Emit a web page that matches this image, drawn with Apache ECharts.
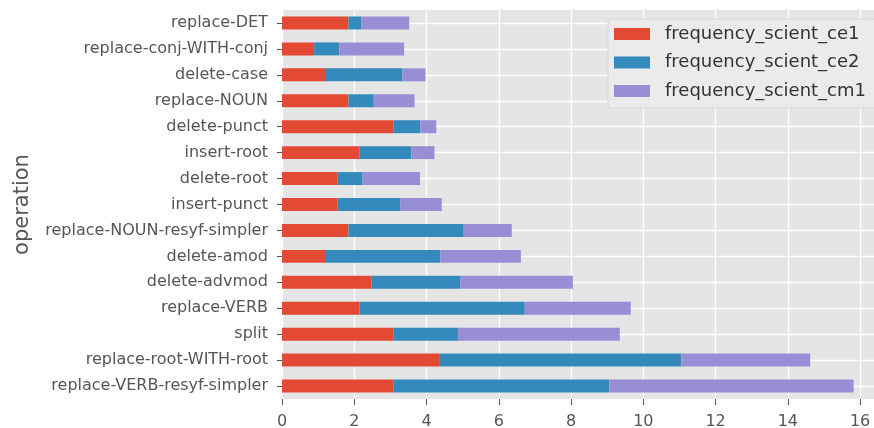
<!DOCTYPE html>
<html><head><meta charset="utf-8">
<script src="https://cdn.jsdelivr.net/npm/echarts@6/dist/echarts.min.js"></script>
<style>html,body{margin:0;padding:0;background:#fff}#c{width:874px;height:428px}</style>
</head><body><div id="c"></div>
<script>
const categories = ['replace-DET','replace-conj-WITH-conj','delete-case','replace-NOUN','delete-punct','insert-root','delete-root','insert-punct','replace-NOUN-resyf-simpler','delete-amod','delete-advmod','replace-VERB','split','replace-root-WITH-root','replace-VERB-resyf-simpler'];
const ce1 = [1.84,0.89,1.19,1.84,3.08,2.14,1.54,1.54,1.84,1.19,2.48,2.14,3.08,4.37,3.08];
const ce2 = [0.35,0.70,2.14,0.70,0.75,1.44,0.69,1.74,3.19,3.19,2.45,4.58,1.79,6.68,5.98];
const cm1 = [1.33,1.79,0.64,1.13,0.44,0.64,1.59,1.14,1.33,2.23,3.12,2.93,4.48,3.57,6.76];
const seriesNames = ['frequency_scient_ce1','frequency_scient_ce2','frequency_scient_cm1'];
const xTicks = [0,2,4,6,8,10,12,14,16];

const chart = echarts.init(document.getElementById('c'));
const font = 'DejaVu Sans';
const colors = ['#E24A33','#348ABD','#988ED5'];
const data = [ce1, ce2, cm1];
chart.setOption({
  animation:false,
  backgroundColor:'#fff',
  textStyle:{fontFamily:font},
  grid:{left:282,width:594,top:10,height:389,containLabel:false,outerBoundsMode:'none',
    show:true,backgroundColor:'#E5E5E5',borderWidth:0},
  legend:{
    orient:'vertical', left:608, top:19,
    data:seriesNames,
    itemWidth:36,itemHeight:12,itemGap:10.5,
    padding:[6,10,8,6],
    backgroundColor:'#EBEBEB',borderColor:'#D6D6D6',borderWidth:1,borderRadius:3,
    textStyle:{color:'#333',fontSize:18,fontFamily:font,padding:[0,0,0,10]},
    icon:'rect'
  },
  xAxis:{
    type:'value',min:0,max:16.44,interval:2,
    axisLine:{show:false},
    axisTick:{show:true,length:6,lineStyle:{color:'#555'}},
    axisLabel:{color:'#555',fontSize:16,fontFamily:font,margin:15,showMaxLabel:false,
      formatter:v=>xTicks.includes(v)?String(v):''},
    splitLine:{show:true,lineStyle:{color:'#fff',width:1.3}}
  },
  yAxis:[{
    type:'category',data:categories,inverse:true,
    name:'operation',nameLocation:'middle',nameRotate:90,nameGap:249,
    nameTextStyle:{color:'#555',fontSize:21,fontFamily:font},
    axisLine:{show:false},
    axisTick:{show:true,alignWithLabel:true,length:5,lineStyle:{color:'#555'}},
    axisLabel:{color:'#555',fontSize:16,fontFamily:font,margin:14},
    splitLine:{show:false}
  },{
    type:'value',min:0,max:30,interval:1,show:true,
    axisLine:{show:false},axisTick:{show:false},axisLabel:{show:false},
    splitLine:{show:true,lineStyle:{color:['rgba(0,0,0,0)','#fff'],width:1.3}}
  }],
  series:data.map((d,i)=>({
    name:seriesNames[i],type:'bar',stack:'total',yAxisIndex:0,
    data:d,barWidth:'50%',itemStyle:{color:colors[i]}
  }))
});
</script></body></html>
